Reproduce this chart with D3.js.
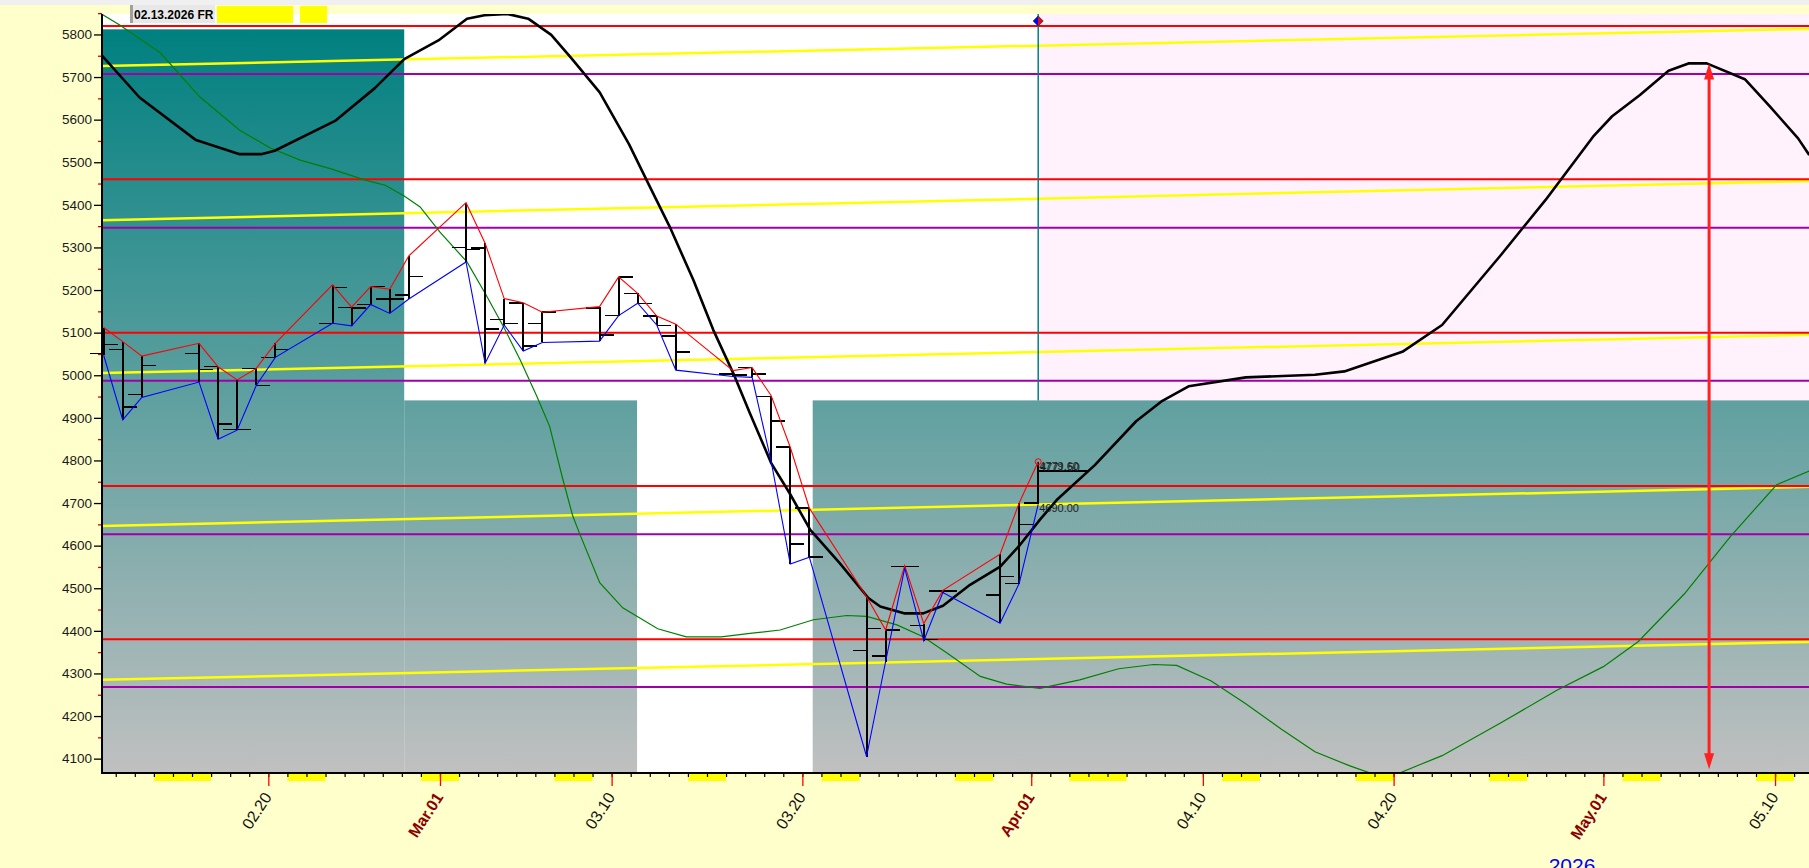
<!DOCTYPE html>
<html><head><meta charset="utf-8">
<script src="https://cdn.jsdelivr.net/npm/d3@7"></script>
<style>
html,body{margin:0;padding:0;background:#ffffcc;overflow:hidden}
svg{display:block}
</style></head><body>
<svg id="c" width="1809" height="868"></svg>
<script>
// ---------------- DATA ----------------
const barDates = ["2026-02-11","2026-02-12","2026-02-13","2026-02-16","2026-02-17","2026-02-18","2026-02-19","2026-02-20","2026-02-23","2026-02-24","2026-02-25","2026-02-26","2026-02-27","2026-03-02","2026-03-03","2026-03-04","2026-03-05","2026-03-06","2026-03-09","2026-03-10","2026-03-11","2026-03-12","2026-03-13","2026-03-16","2026-03-17","2026-03-18","2026-03-19","2026-03-20","2026-03-23","2026-03-24","2026-03-25","2026-03-26","2026-03-27","2026-03-30","2026-03-31","2026-04-01"];
const barOpen  = [5051,5061,4955,5051,5020,4873,5016,5042,5122,5159,5166,5179,5188,5300,5299,5131,5170,5122,5158,5140,5192,5139,5092,5003,5018,4950,4831,4688,4354,4341,4551,4413,4493,4484,4511,4700];
const barHigh  = [5112,5079,5045,5075,5020,4989,5016,5075,5212,5160,5208,5202,5280,5405,5310,5180,5170,5148,5161,5231,5192,5139,5120,5011,5018,4952,4831,4688,4480,4402,4553,4417,4495,4580,4700,4797];
const barLow   = [5047,4895,4948,4984,4850,4871,4976,5042,5122,5116,5166,5145,5179,5266,5028,5118,5057,5077,5080,5140,5169,5118,5012,4997,4995,4797,4557,4573,4105,4328,4547,4377,4490,4418,4511,4697];
const barClose = [5072,4925,5023,5014,4885,4873,4976,5061,5206,5158,5208,5179,5232,5295,5108,5122,5069,5148,5094,5231,5169,5117,5054,5000,5003,4893,4604,4573,4406,4402,4551,4380,4493,4527,4650,4775];

const blackDates = ["2026-02-11T07","2026-02-13T06","2026-02-16T05","2026-02-18T12","2026-02-19T15","2026-02-20T08","2026-02-23T12","2026-02-25T14","2026-02-27T03","2026-02-28T22","2026-03-02T10","2026-03-03T08","2026-03-04T13","2026-03-05T15","2026-03-06T20","2026-03-07T21","2026-03-09T09","2026-03-10T22","2026-03-11T20","2026-03-13T01","2026-03-14T07","2026-03-15T08","2026-03-16T09","2026-03-17T06","2026-03-18T09","2026-03-19T08","2026-03-20T10","2026-03-21T23","2026-03-23T11","2026-03-24T02","2026-03-25T09","2026-03-26T08","2026-03-27T09","2026-03-28T19","2026-03-30T09","2026-03-31T10","2026-04-01T11","2026-04-02T08","2026-04-04T08","2026-04-06T12","2026-04-07T21","2026-04-09T06","2026-04-12T06","2026-04-15T21","2026-04-17T10","2026-04-20T11","2026-04-22T13","2026-04-25T14","2026-04-27T23","2026-04-30T11","2026-05-01T11","2026-05-02T22","2026-05-04T10","2026-05-05T11","2026-05-06T10","2026-05-08T10","2026-05-09T18","2026-05-11T05","2026-05-11T19"];
const blackValues = [5750,5652,5552,5519,5519,5527,5597,5674,5742,5786,5837,5845,5848,5837,5799,5745,5664,5542,5458,5349,5223,5106,5005,4911,4793,4723,4637,4559,4477,4457,4441,4441,4459,4508,4551,4602,4661,4707,4789,4892,4940,4974,4995,5001,5009,5055,5118,5280,5411,5560,5608,5658,5715,5732,5732,5695,5630,5556,5517];

const greenDates = ["2026-02-11T07","2026-02-12T05","2026-02-14T08","2026-02-16T10","2026-02-18T12","2026-02-20T02","2026-02-21T16","2026-02-23T06","2026-02-25T02","2026-02-26T03","2026-02-27T03","2026-02-27T23","2026-03-01T00","2026-03-02T10","2026-03-03T09","2026-03-04T08","2026-03-05T05","2026-03-06T02","2026-03-06T18","2026-03-07T10","2026-03-07T23","2026-03-08T08","2026-03-09T09","2026-03-10T14","2026-03-12T10","2026-03-13T22","2026-03-15T18","2026-03-17T06","2026-03-18T20","2026-03-20T14","2026-03-22T08","2026-03-23T09","2026-03-24T23","2026-03-26T08","2026-03-27T14","2026-03-29T08","2026-03-30T17","2026-04-01T11","2026-04-02T12","2026-04-03T13","2026-04-05T14","2026-04-07T10","2026-04-08T15","2026-04-10T10","2026-04-12T06","2026-04-14T02","2026-04-15T21","2026-04-17T17","2026-04-19T01","2026-04-20T02","2026-04-21T08","2026-04-22T13","2026-04-25T14","2026-04-28T14","2026-05-01T00","2026-05-02T20","2026-05-05T06","2026-05-07T16","2026-05-10T02","2026-05-11T19"];
const greenValues = [5847,5822,5757,5653,5575,5534,5505,5485,5458,5446,5421,5395,5336,5266,5192,5114,5036,4950,4880,4760,4670,4627,4513,4454,4405,4386,4386,4394,4402,4426,4436,4434,4414,4386,4348,4293,4275,4265,4275,4285,4311,4321,4319,4283,4229,4170,4116,4083,4062,4062,4085,4107,4183,4261,4316,4375,4487,4622,4743,4775];

const redLevels    = [5820, 5460, 5100, 4740, 4380];
const purpleLevels = [5707, 5346, 4987, 4627, 4268];
const yellowStart  = [5726, 5364, 5005, 4646, 4285];
const yellowEnd    = [5813, 5456, 5095, 4738, 4374];

const yTickValues = d3.range(4100, 5801, 100);
const yMinorValues = d3.range(4150, 5851, 100);
const xLabelDates = ["2026-02-20","2026-03-01","2026-03-10","2026-03-20","2026-04-01","2026-04-10","2026-04-20","2026-05-01","2026-05-10"];
const xLabelTexts = ["02.20","Mar.01","03.10","03.20","Apr.01","04.10","04.20","May.01","05.10"];
const xLabelMonth = [false,true,false,false,true,false,false,true,false];
const offDayStarts = ["2026-02-14","2026-02-21","2026-02-28","2026-03-07","2026-03-14","2026-03-21","2026-03-28","2026-04-03","2026-04-11","2026-04-18","2026-04-25","2026-05-02","2026-05-09"];
const offDayEnds   = ["2026-02-17","2026-02-23","2026-03-02","2026-03-09","2026-03-16","2026-03-23","2026-03-30","2026-04-06","2026-04-13","2026-04-20","2026-04-27","2026-05-04","2026-05-11"];

const zoneStarts = ["2026-02-11T06:43","2026-02-27T03:00","2026-03-20T13:00"];
const zoneEnds   = ["2026-02-27T03:00","2026-03-11T08:00","2026-05-11T18:43"];
const zoneTops   = [5812, 4941, 4941];

const arrowDate = "2026-05-06T13";
const arrowFrom = 4075, arrowTo = 5732;
const priceLabels = ["4779.60","4771.50","4690.00"];
const priceLabelValues = [4786, 4784, 4688];
const headerText = "02.13.2026 FR";
const yearText = "2026";

// ---------------- SCALES ----------------
const parse = d3.utcParse("%Y-%m-%dT%H:%M");
const pd = s => s.length === 10 ? parse(s + "T00:00") : (s.length === 13 ? parse(s + ":00") : parse(s));
const L = 102, T = 14, R = 1809, B = 773;
const x = d3.scaleUtc().domain([pd("2026-02-11T06:43"), pd("2026-05-11T18:43")]).range([L, R]);
const y = d3.scaleLinear().domain([4066.3, 5848]).range([B, T]);
const bx = s => x(d3.utcMinute.offset(pd(s), 528)); // bar sits inside its day slot

const svg = d3.select("#c");
const defs = svg.append("defs");
const grad = defs.append("linearGradient").attr("id", "tg").attr("gradientUnits", "userSpaceOnUse")
  .attr("x1", 0).attr("x2", 0).attr("y1", y(5812)).attr("y2", B);
grad.append("stop").attr("offset", 0).attr("stop-color", "#008080");
grad.append("stop").attr("offset", 1).attr("stop-color", "#c0c0c0");
defs.append("clipPath").attr("id", "pc").append("rect").attr("x", L).attr("y", T).attr("width", R - L).attr("height", B - T);

// backgrounds
svg.append("rect").attr("width", 1809).attr("height", 868).attr("fill", "#ffffcc");
svg.append("rect").attr("width", 1809).attr("height", 5).attr("fill", "#f0f0f0");
svg.append("rect").attr("x", L).attr("y", T).attr("width", R - L).attr("height", B - T).attr("fill", "#ffffff");
const lastX = bx(barDates[barDates.length - 1]);
svg.append("rect").attr("x", lastX).attr("y", T).attr("width", R - lastX).attr("height", B - T).attr("fill", "#fff2fc");

const plot = svg.append("g").attr("clip-path", "url(#pc)");
zoneStarts.forEach((s, i) => {
  plot.append("rect").attr("x", x(pd(s))).attr("y", y(zoneTops[i]))
    .attr("width", x(pd(zoneEnds[i])) - x(pd(s))).attr("height", B - y(zoneTops[i]))
    .attr("fill", "url(#tg)");
});

// level lines
const x0 = L, x1 = R;
yellowStart.forEach((v, i) => plot.append("line").attr("x1", x0).attr("x2", x1)
  .attr("y1", y(v)).attr("y2", y(yellowEnd[i])).attr("stroke", "#ffff00").attr("stroke-width", 2.5));
purpleLevels.forEach(v => plot.append("line").attr("x1", x0).attr("x2", x1)
  .attr("y1", y(v)).attr("y2", y(v)).attr("stroke", "#a000a8").attr("stroke-width", 2));
redLevels.forEach(v => plot.append("line").attr("x1", x0).attr("x2", x1)
  .attr("y1", y(v)).attr("y2", y(v)).attr("stroke", "#ff0000").attr("stroke-width", 2));

// green curve
const lineG = d3.line().x(d => x(pd(d[0]))).y(d => y(d[1]));
plot.append("path").datum(greenDates.map((d, i) => [d, greenValues[i]]))
  .attr("d", lineG).attr("fill", "none").attr("stroke", "#008000").attr("stroke-width", 1.2);

// vertical current line
svg.append("line").attr("x1", lastX).attr("x2", lastX).attr("y1", T).attr("y2", y(4941))
  .attr("stroke", "#008080").attr("stroke-width", 1.5);

// OHLC bars
const bars = svg.append("g").attr("stroke", "#000").attr("stroke-width", 1.5).attr("shape-rendering", "crispEdges");
barDates.forEach((d, i) => {
  const cx = Math.round(bx(d));
  bars.append("line").attr("x1", cx).attr("x2", cx).attr("y1", y(barHigh[i])).attr("y2", y(barLow[i]));
  bars.append("line").attr("x1", cx - 14).attr("x2", cx).attr("y1", y(barOpen[i])).attr("y2", y(barOpen[i]));
  bars.append("line").attr("x1", cx).attr("x2", cx + 14).attr("y1", y(barClose[i])).attr("y2", y(barClose[i]));
});
// close extension of last bar
bars.append("line").attr("x1", lastX).attr("x2", lastX + 50).attr("y1", y(barClose[barClose.length - 1])).attr("y2", y(barClose[barClose.length - 1]));

const hiLine = d3.line().x((d, i) => bx(barDates[i])).y(d => y(d));
svg.append("path").datum(barHigh).attr("d", hiLine).attr("fill", "none").attr("stroke", "#ff0000").attr("stroke-width", 1.1);
svg.append("path").datum(barLow).attr("d", hiLine).attr("fill", "none").attr("stroke", "#0000ff").attr("stroke-width", 1.1);
svg.append("circle").attr("cx", lastX).attr("cy", y(barHigh[barHigh.length - 1])).attr("r", 3)
  .attr("fill", "none").attr("stroke", "#ff0000").attr("stroke-width", 1);

// price labels
priceLabels.forEach((t, i) => svg.append("text").attr("x", lastX + 1 + (i === 1 ? 1 : 0)).attr("y", y(priceLabelValues[i]) + 4)
  .attr("font-family", "Liberation Sans, Arial, sans-serif").attr("font-size", 11).attr("fill", "#222").text(t));

// black curve
plot.append("path").datum(blackDates.map((d, i) => [d, blackValues[i]]))
  .attr("d", lineG).attr("fill", "none").attr("stroke", "#000").attr("stroke-width", 2.6).attr("stroke-linejoin", "round");

// red double arrow
const ax = x(pd(arrowDate));
const ay1 = y(arrowFrom), ay2 = y(arrowTo);
svg.append("line").attr("x1", ax).attr("x2", ax).attr("y1", ay1 - 12).attr("y2", ay2 + 12)
  .attr("stroke", "#ff2020").attr("stroke-width", 3);
svg.append("path").attr("d", `M${ax},${ay2} L${ax - 5},${ay2 + 16} L${ax + 5},${ay2 + 16} Z`).attr("fill", "#ff2020");
svg.append("path").attr("d", `M${ax},${ay1} L${ax - 5},${ay1 - 16} L${ax + 5},${ay1 - 16} Z`).attr("fill", "#ff2020");

// diamond marker
const dy = 21;
svg.append("path").attr("d", `M${lastX},${dy - 5} L${lastX - 5},${dy} L${lastX},${dy + 5} Z`).attr("fill", "#0000ff");
svg.append("path").attr("d", `M${lastX},${dy - 5} L${lastX + 5},${dy} L${lastX},${dy + 5} Z`).attr("fill", "#ff0000");
svg.append("path").attr("d", `M${lastX},${dy - 5} L${lastX - 5},${dy} L${lastX},${dy + 5} L${lastX + 5},${dy} Z`).attr("fill", "none").attr("stroke", "#003060").attr("stroke-width", 0.8);

// ---------------- AXES ----------------
const font = "Liberation Sans, Arial, sans-serif";
const gy = svg.append("g").attr("transform", `translate(${L},0)`);
gy.call(d3.axisLeft(y).tickValues(yMinorValues).tickSize(4).tickFormat(""))
  .call(g => g.select(".domain").remove()).selectAll("line").attr("stroke", "#e00000").attr("stroke-width", 1.3);
const gy2 = svg.append("g").attr("transform", `translate(${L},0)`);
gy2.call(d3.axisLeft(y).tickValues(yTickValues).tickSize(8).tickPadding(2).tickFormat(d3.format("d")))
  .call(g => g.select(".domain").remove());
gy2.selectAll("line").attr("stroke", "#000").attr("stroke-width", 1.3);
gy2.selectAll("text").attr("font-family", font).attr("font-size", 13.5).attr("fill", "#1a1a1a");

// weekend markers
offDayStarts.forEach((s, i) => svg.append("rect").attr("x", x(pd(s))).attr("y", B).attr("width", x(pd(offDayEnds[i])) - x(pd(s))).attr("height", 8).attr("fill", "#ffff00"));

const dayTicks = d3.utcDay.range(pd("2026-02-12"), pd("2026-05-12"));
const gx = svg.append("g").attr("transform", `translate(0,${B})`);
gx.call(d3.axisBottom(x).tickValues(dayTicks).tickSize(4).tickFormat(""))
  .call(g => g.select(".domain").remove());
gx.selectAll("line").attr("stroke", "#000").attr("stroke-width", 1.2);
const gx2 = svg.append("g").attr("transform", `translate(0,${B})`);
gx2.call(d3.axisBottom(x).tickValues(xLabelDates.map(pd)).tickSize(13).tickFormat(""))
  .call(g => g.select(".domain").remove());
gx2.selectAll("line").attr("stroke", "#ff0000").attr("stroke-width", 1.3);

xLabelDates.forEach((s, i) => {
  const tx = x(pd(s));
  svg.append("text").attr("transform", `translate(${tx + 4},${B + 24}) rotate(-57)`)
    .attr("text-anchor", "end").attr("font-family", font).attr("font-size", 16)
    .attr("font-weight", xLabelMonth[i] ? "bold" : "normal")
    .attr("fill", xLabelMonth[i] ? "#8b0000" : "#111").text(xLabelTexts[i]);
});

// axis lines
svg.append("line").attr("x1", L).attr("x2", L).attr("y1", T).attr("y2", B + 1).attr("stroke", "#000").attr("stroke-width", 2);
svg.append("line").attr("x1", L).attr("x2", R).attr("y1", B).attr("y2", B).attr("stroke", "#000").attr("stroke-width", 2);

svg.append("text").attr("x", 1572).attr("y", 873).attr("text-anchor", "middle").attr("font-family", font)
  .attr("font-size", 21).attr("fill", "#0000ff").text(yearText);

// header
svg.append("rect").attr("x", 130).attr("y", 5).attr("width", 85).attr("height", 18).attr("fill", "#e8e8e8");
svg.append("rect").attr("x", 130).attr("y", 5).attr("width", 3).attr("height", 18).attr("fill", "#a0a0a0");
svg.append("text").attr("x", 134).attr("y", 18.5).attr("font-family", font).attr("font-weight", "bold")
  .attr("font-size", 12).attr("fill", "#000").text(headerText);
svg.append("rect").attr("x", 217).attr("y", 6).attr("width", 76).attr("height", 17).attr("fill", "#ffff00");
svg.append("rect").attr("x", 300).attr("y", 6).attr("width", 27).attr("height", 17).attr("fill", "#ffff00");
</script>
</body></html>
